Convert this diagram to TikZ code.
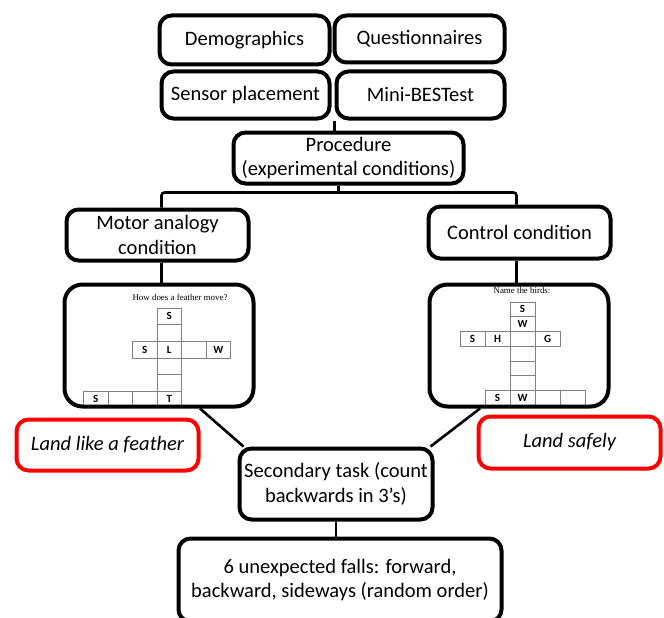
\documentclass[tikz,border=0pt]{standalone}
\usepackage{fontspec}
\setmainfont{Carlito}
\newfontfamily\gridfont{Liberation Serif}
\begin{document}
\begin{tikzpicture}[x=1pt,y=-1pt,
	stage/.style={draw, line width=4pt, rounded corners=12pt, align=center, inner sep=2pt, font=\fontsize{20.5}{24.5}\selectfont},
	cue/.style={stage, draw=red, font=\fontsize{20.5}{24.5}\selectfont\itshape},
	puzzle/.style={draw, line width=4pt, rounded corners=18pt},
	cell/.style={draw=gray, line width=0.6pt, inner sep=0pt, font=\fontsize{11}{11}\selectfont\bfseries},
	clue/.style={font=\gridfont\fontsize{8.9}{10}\selectfont},
	link/.style={line width=2.6pt}]
		\useasboundingbox (0,0) rectangle (664,618);
		\clip (0,0) rectangle (664,618);
		\node[stage, minimum width=170pt, minimum height=49pt] (demo) at (244.5,40) {Demographics};
		\node[stage, minimum width=170pt, minimum height=47pt] (quest) at (419.5,39) {Questionnaires};
		\node[stage, minimum width=168pt, minimum height=47pt] (sensor) at (245.5,95) {Sensor placement};
		\node[stage, minimum width=168pt, minimum height=47pt] (mini) at (420.5,95) {Mini-BESTest};
		\node[stage, minimum width=230pt, minimum height=51pt] (proc) at (348.5,158) {Procedure\\(experimental conditions)};
		\node[stage, minimum width=182pt, minimum height=51pt] (motor) at (157.5,235) {Motor analogy\\condition};
		\node[stage, minimum width=182pt, minimum height=52pt] (ctrl) at (519.5,232.5) {Control condition};
		% crossword grids
		\node[clue] (featherq) at (180,297) {How does a feather move?};
		\foreach \c/\r/\t in {0/0/S, 0/1/, -1/2/S, 0/2/L, 1/2/, 2/2/W, 0/3/, 0/4/, -3/5/S, -2/5/, -1/5/, 0/5/T}
			\node[cell, minimum width=24.5pt, minimum height=16.6pt] (fl\c\r) at ({169.25+\c*24.5},{316.3+\r*16.6}) {\t};
		\node[clue] (birdq) at (522,290) {Name the birds:};
		\foreach \c/\r/\t in {0/0/S, 0/1/W, -2/2/S, -1/2/H, 0/2/, 1/2/G, 0/3/, 0/4/, 0/5/, -1/6/S, 0/6/W, 1/6/, 2/6/}
			\node[cell, minimum width=25pt, minimum height=14.7pt] (bd\c\r) at ({522.5+\c*25},{309.35+\r*14.7}) {\t};
		\node[puzzle, minimum width=189pt, minimum height=122pt] (featherpuzzle) at (159,345.5) {};
		\node[puzzle, minimum width=179pt, minimum height=122pt] (birdpuzzle) at (519,345.5) {};
		\node[cue, minimum width=182pt, minimum height=51pt] (feather) at (107.5,445) {Land like a feather};
		\node[cue, minimum width=182pt, minimum height=52pt] (safely) at (569.5,442.5) {Land safely};
		\node[stage, minimum width=193pt, minimum height=71pt] (second) at (336,484) {Secondary task (count\\backwards in 3’s)};
		\node[stage, minimum width=323pt, minimum height=83pt] (falls) at (340,580) {6 unexpected falls: forward,\\backward, sideways (random order)};
		% connectors
		\coordinate (bus) at ([xshift=-10pt,yshift=-7pt]proc.south);
		\draw[link] (mini.south west) -- (mini.south west |- proc.north);
		\draw[link] ([xshift=-10pt]proc.south) -- (bus);
		\draw[link, rounded corners=3pt] ([xshift=4pt]motor.north) |- (bus) -| ([xshift=-3pt]ctrl.north);
		\draw[link] ([xshift=4pt]motor.south) -- ([xshift=4pt]motor.south |- featherpuzzle.north);
		\draw[link] ([xshift=-3pt]ctrl.south) -- ([xshift=-3pt]ctrl.south |- birdpuzzle.north);
		\draw[link] ([xshift=41pt]featherpuzzle.south) -- ([xshift=6pt]second.north west);
		\draw[link] ([xshift=-39pt]birdpuzzle.south) -- ([xshift=-4pt]second.north east);
		\draw[link] (second.south) -- (second.south |- falls.north);
	\end{tikzpicture}
\end{document}
